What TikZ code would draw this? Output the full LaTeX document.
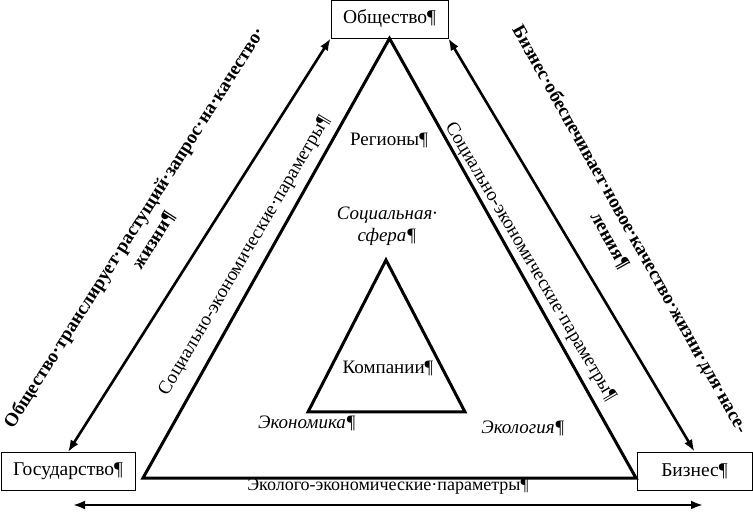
\documentclass[tikz,border=0pt]{standalone}
\usepackage{fontspec}
\setmainfont{Liberation Serif}
\usetikzlibrary{arrows.meta}

\tikzset{
  actor/.style={draw,line width=0.8pt,minimum height=38pt,inner sep=0pt,font=\fontsize{19.5}{22}\selectfont},
  edge/.style={line width=3pt,line join=miter},
  link/.style={line width=2.6pt,{Latex[length=12pt,width=9pt]}-{Latex[length=12pt,width=9pt]}},
  lbl/.style={font=\fontsize{19}{22}\selectfont,align=center,inner sep=1pt},
  bold lbl/.style={font=\fontsize{19}{23}\selectfont\bfseries,align=center,inner sep=1pt},
  it lbl/.style={font=\fontsize{19}{22}\selectfont\itshape,align=center,inner sep=1pt},
}

\begin{document}
\begin{tikzpicture}[x=1pt,y=1pt]
\useasboundingbox (0,0) rectangle (753,512);
% участники
\node[actor,minimum width=117pt] (soc) at (389.5,493) {Общество¶};
\node[actor,minimum width=134pt] (gov) at (68,40.5) {Государство¶};
\node[actor,minimum width=115pt] (biz) at (694.5,41) {Бизнес¶};
% большой треугольник
\coordinate (tl) at (143,34);
\coordinate (tr) at (636,34);
\draw[edge] (soc.south) -- (tr) -- (tl) -- cycle;
% малый треугольник
\coordinate (ia) at (386,252);
\coordinate (il) at (308,100);
\coordinate (ir) at (465,100);
\draw[edge] (ia) -- (ir) -- (il) -- cycle;
% связи
\coordinate (bl) at (73,7);
\coordinate (br) at (703,7);
\draw[link] (gov.north) -- (soc.south west);
\draw[link] (soc.south east) -- (biz.north);
\draw[link] (bl) -- (br);
% подписи
\node[bold lbl,rotate=57.6] (demand) at (144,278) {Общество·транслирует·растущий·запрос·на·качество·\\жизни¶};
\node[bold lbl,rotate=-60.8] (quality) at (620,277) {Бизнес·обеспечивает·новое·качество·жизни·для·насе-\\ления¶};
\node[lbl,rotate=59.5] (sel) at (245,256) {Социально-экономические·параметры¶};
\node[lbl,rotate=-59.5] (ser) at (530,250) {Социально-экономические·параметры¶};
\node[lbl,font=\fontsize{18}{20}\selectfont] (ecopar) at (388,26) {Эколого-экономические·параметры¶};
\node[lbl] (reg) at (389,372) {Регионы¶};
\node[it lbl] (sphere) at (387,286) {Социальная·\\сфера¶};
\node[lbl] (comp) at (388,144) {Компании¶};
\node[it lbl] (econ) at (307,89) {Экономика¶};
\node[it lbl] (ecol) at (523,84) {Экология¶};
\end{tikzpicture}
\end{document}
